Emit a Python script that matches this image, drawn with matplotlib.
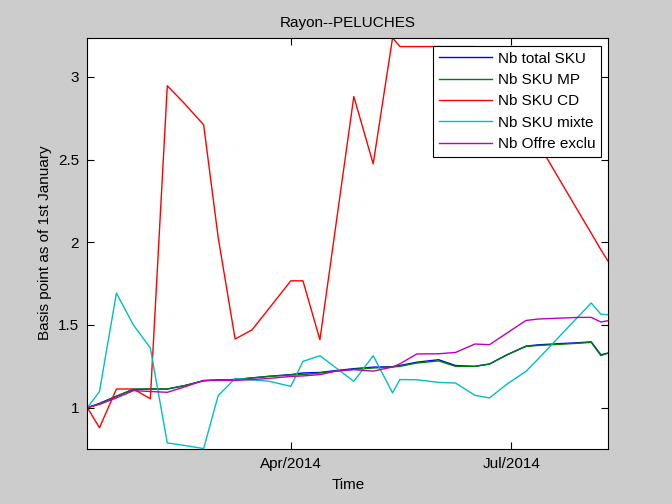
import numpy as np
import matplotlib
matplotlib.use("Agg")
import matplotlib.pyplot as plt
import matplotlib.dates as mdates
from matplotlib.ticker import FormatStrFormatter

# dates of the records (2014)
dates = ["2014-01-07", "2014-01-12", "2014-01-19", "2014-01-26", "2014-02-02",
         "2014-02-09", "2014-02-16", "2014-02-24", "2014-03-02", "2014-03-09",
         "2014-03-16", "2014-03-23", "2014-04-01", "2014-04-06", "2014-04-13",
         "2014-04-20", "2014-04-27", "2014-05-05", "2014-05-13", "2014-05-16",
         "2014-05-23", "2014-06-01", "2014-06-08", "2014-06-16", "2014-06-22",
         "2014-06-29", "2014-07-07", "2014-07-12", "2014-07-22", "2014-07-29",
         "2014-08-03", "2014-08-07", "2014-08-10"]

total_sku = [1.0, 1.026, 1.07, 1.11, 1.113, 1.113, 1.133, 1.163, 1.168, 1.170,
             1.18, 1.19, 1.20, 1.21, 1.213, 1.225, 1.236, 1.245, 1.248, 1.255,
             1.275, 1.29, 1.255, 1.25, 1.264, 1.318, 1.372, 1.38, 1.388, 1.393,
             1.398, 1.32, 1.33]
sku_mp = [1.0, 1.024, 1.068, 1.113, 1.113, 1.113, 1.133, 1.163, 1.168, 1.170,
          1.18, 1.189, 1.198, 1.20, 1.21, 1.222, 1.232, 1.24, 1.246, 1.25,
          1.27, 1.283, 1.25, 1.25, 1.264, 1.318, 1.370, 1.376, 1.384, 1.39,
          1.395, 1.315, 1.33]
sku_cd = [1.0, 0.879, 1.113, 1.113, 1.054, 2.946, 2.84, 2.71, 2.03, 1.415,
          1.471, 1.60, 1.767, 1.767, 1.411, 2.146, 2.881, 2.474, 3.236, 3.183,
          3.183, 3.183, 3.183, 3.183, 3.098, 2.924, 2.726, 2.601, 2.352, 2.178,
          2.055, 1.955, 1.885]
sku_mixte = [1.0, 1.098, 1.693, 1.50, 1.361, 0.787, 0.772, 0.753, 1.073, 1.177,
             1.168, 1.16, 1.129, 1.280, 1.314, 1.237, 1.159, 1.314, 1.089, 1.17,
             1.169, 1.153, 1.149, 1.075, 1.059, 1.14, 1.219, 1.293, 1.448, 1.556,
             1.633, 1.565, 1.562]
offre_exclu = [1.0, 1.02, 1.059, 1.103, 1.098, 1.093, 1.125, 1.165, 1.165, 1.165,
               1.17, 1.177, 1.189, 1.192, 1.20, 1.222, 1.230, 1.221, 1.246, 1.265,
               1.325, 1.326, 1.334, 1.385, 1.381, 1.449, 1.527, 1.536, 1.542, 1.546,
               1.546, 1.518, 1.526]

names = ["Nb total SKU", "Nb SKU MP", "Nb SKU CD", "Nb SKU mixte", "Nb Offre exclu"]
series = [total_sku, sku_mp, sku_cd, sku_mixte, offre_exclu]
colors = [(0, 0, 1), (0, 0.5, 0), (1, 0, 0), (0, 0.75, 0.75), (0.75, 0, 0.75)]

plt.rcParams["font.family"] = ["Liberation Sans", "DejaVu Sans"]
plt.rcParams["font.size"] = 11

t = np.array(dates, dtype="datetime64[D]")

fig = plt.figure(figsize=(6.72, 5.04), dpi=100, facecolor="#cccccc")
ax = fig.add_axes([0.13, 0.11, 0.775, 0.815])
for y, c, n in zip(series, colors, names):
    ax.plot(t, y, color=c, lw=1.0, label=n)

allv = np.concatenate([np.array(s) for s in series])
ax.set_xlim(t[0], t[-1])
ax.set_ylim(allv.min(), allv.max())

ax.xaxis.set_major_locator(mdates.MonthLocator(bymonth=[1, 4, 7, 10]))
ax.xaxis.set_major_formatter(mdates.DateFormatter("%b/%Y"))
ax.set_yticks([1, 1.5, 2, 2.5, 3])
ax.yaxis.set_major_formatter(FormatStrFormatter("%g"))
ax.tick_params(direction="in", length=5, width=0.8, top=True, right=True,
               labelsize=11, pad=6)
for s in ax.spines.values():
    s.set_linewidth(0.8)

ax.set_title("Rayon--PELUCHES", fontsize=11, pad=8)
ax.set_xlabel("Time", fontsize=11, labelpad=5)
ax.set_ylabel("Basis point as of 1st January", fontsize=11)

leg = ax.legend(loc="upper right", bbox_to_anchor=(601 / 672, 1 - 46 / 504),
                bbox_transform=fig.transFigure, borderaxespad=0,
                fancybox=False, framealpha=1, edgecolor="black",
                handlelength=3.5, handletextpad=0.35, labelspacing=0.48,
                borderpad=0.38, fontsize=11)
leg.get_frame().set_linewidth(0.8)

fig.savefig("out.png", dpi=100, facecolor=fig.get_facecolor())
